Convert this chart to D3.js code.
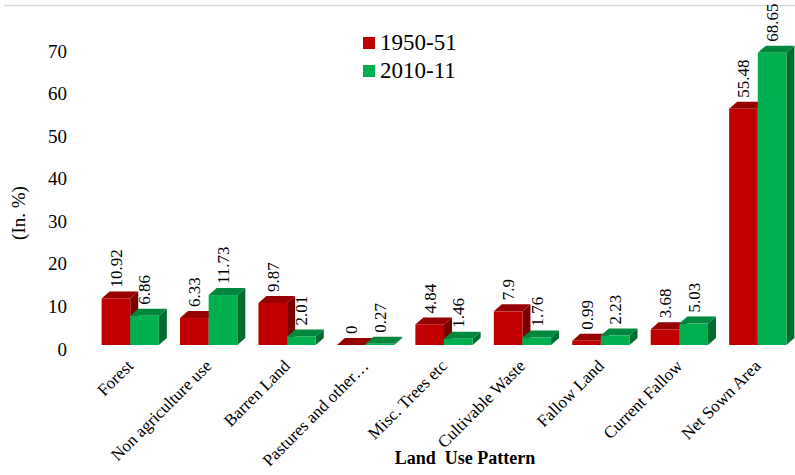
<!DOCTYPE html>
<html>
<head>
<meta charset="utf-8">
<script src="https://cdn.jsdelivr.net/npm/d3@7"></script>
<style>
    body { margin: 0; background: #fff; }
    svg text { font-family: "Liberation Serif", "Times New Roman", serif; fill: #000; }
</style>
</head>
<body>
<div id="chart"></div>
<script>
const WIDTH = 795;
const HEIGHT = 475;
const DEPTH_X = 8;
const DEPTH_Y = 7;
const FONT = '"Liberation Serif", "Times New Roman", serif';

const categories = ['Forest', 'Non agriculture use', 'Barren Land', 'Pastures and other…',
    'Misc. Trees etc', 'Cultivable Waste', 'Fallow Land', 'Current Fallow', 'Net Sown Area'];
const seriesNames = ['1950-51', '2010-11'];
const values1950 = [10.92, 6.33, 9.87, 0, 4.84, 7.9, 0.99, 3.68, 55.48];
const values2010 = [6.86, 11.73, 2.01, 0.27, 1.46, 1.76, 2.23, 5.03, 68.65];
const yTicks = [0, 10, 20, 30, 40, 50, 60, 70];

const COLORS = {
    '1950-51': { front: '#C00000', top: '#970000', side: '#7A0000' },
    '2010-11': { front: '#00B050', top: '#00873D', side: '#006B2F' },
};

const svg = d3.select('#chart')
    .append('svg')
    .attr('width', WIDTH)
    .attr('height', HEIGHT)
    .attr('font-family', FONT);

// thin rule along the top
svg.append('line')
    .attr('x1', 4).attr('x2', WIDTH)
    .attr('y1', 5.5).attr('y2', 5.5)
    .style('stroke', '#d9d9d9')
    .style('stroke-width', 1.5);

const x = d3.scaleBand()
    .domain(categories)
    .range([91, 797])
    .paddingInner(0.27)
    .paddingOuter(0.135);

const xs = d3.scaleBand()
    .domain(seriesNames)
    .range([0, x.bandwidth()]);

const y = d3.scaleLinear()
    .domain([0, 70])
    .range([345, 47]);

// Y axis (labels only)
const yAxis = svg.append('g')
    .attr('transform', 'translate(67,4)')
    .call(d3.axisLeft(y).tickValues(yTicks).tickSize(0).tickPadding(0));
yAxis.attr('font-family', FONT).attr('font-size', 19);
yAxis.select('.domain').remove();
yAxis.selectAll('text')
    .attr('font-family', FONT)
    .style('font-family', FONT)
    .style('font-size', '19px')
    .style('fill', '#000');

svg.append('text')
    .attr('transform', 'translate(25,213) rotate(-90)')
    .style('text-anchor', 'middle')
    .style('font-size', '19px')
    .text('(In. %)');

// Bars
const table = categories.map((c, i) => ({ category: c, vals: [values1950[i], values2010[i]] }));

table.forEach(row => {
    seriesNames.forEach((s, si) => {
        const v = row.vals[si];
        const x0 = x(row.category) + xs(s);
        const w = xs.bandwidth();
        const y0 = y(0);
        const y1 = y(v);
        const g = svg.append('g');

        g.append('polygon')
            .attr('points', [[x0 + w, y1], [x0 + w + DEPTH_X, y1 - DEPTH_Y], [x0 + w + DEPTH_X, y0 - DEPTH_Y], [x0 + w, y0]].join(' '))
            .style('fill', COLORS[s].side);
        g.append('polygon')
            .attr('points', [[x0, y1], [x0 + DEPTH_X, y1 - DEPTH_Y], [x0 + w + DEPTH_X, y1 - DEPTH_Y], [x0 + w, y1]].join(' '))
            .style('fill', COLORS[s].top);
        g.append('rect')
            .attr('x', x0)
            .attr('y', y1)
            .attr('width', w)
            .attr('height', y0 - y1)
            .style('fill', COLORS[s].front);
    });
});

// Value labels
table.forEach(row => {
    seriesNames.forEach((s, si) => {
        const v = row.vals[si];
        const cx = x(row.category) + xs(s) + xs.bandwidth() / 2;
        svg.append('text')
            .attr('transform', `translate(${cx},${y(v) - DEPTH_Y - 4}) rotate(-90)`)
            .attr('dy', '0.35em')
            .style('text-anchor', 'start')
            .style('font-size', '17px')
            .text(v);
    });
});

// Category labels
svg.selectAll('text.cat')
    .data(categories)
    .enter()
    .append('text')
    .attr('class', 'cat')
    .attr('transform', d => `translate(${x(d) + x.bandwidth() / 2 + 4},${367}) rotate(-45)`)
    .style('text-anchor', 'end')
    .style('font-size', '17px')
    .text(d => d);

svg.append('text')
    .attr('x', 465)
    .attr('y', 464)
    .style('text-anchor', 'middle')
    .style('font-size', '18px')
    .style('font-weight', 'bold')
    .style('white-space', 'pre')
    .text('Land  Use Pattern');

// Legend
const legend = svg.selectAll('g.legend')
    .data(seriesNames)
    .enter()
    .append('g')
    .attr('class', 'legend')
    .attr('transform', (d, i) => `translate(363,${37 + i * 28})`);

legend.append('rect')
    .attr('width', 12)
    .attr('height', 12)
    .style('fill', d => COLORS[d].front);

legend.append('text')
    .attr('x', 17)
    .attr('y', 13)
    .style('font-size', '23px')
    .text(d => d);
</script>
</body>
</html>
